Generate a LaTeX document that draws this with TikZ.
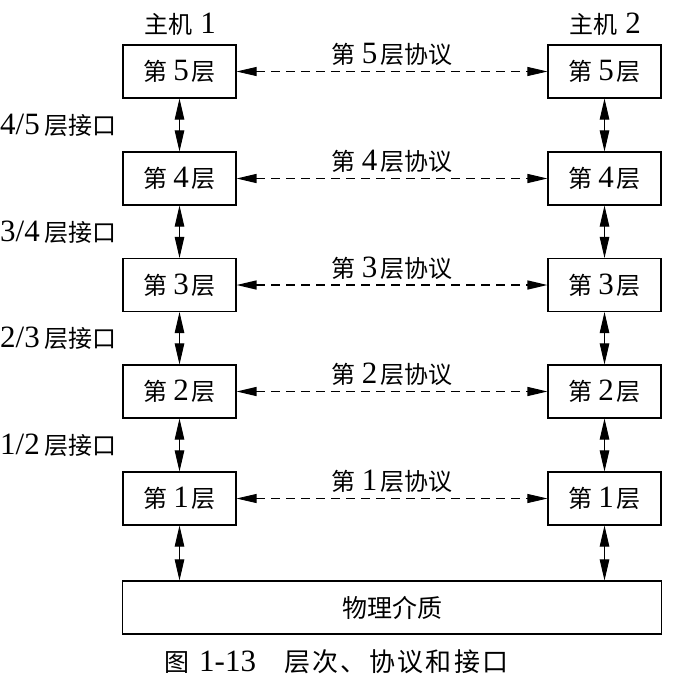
\documentclass[tikz,border=0pt]{standalone}
\usepackage{fontspec}
\setmainfont{Liberation Serif}
\newfontfamily\cjk{Noto Sans CJK SC}
\newfontfamily\cjkls{Noto Sans CJK SC}[LetterSpace=9]
\usetikzlibrary{arrows.meta}
\newcommand\zh[1]{{\cjk\fontsize{24}{26}\selectfont #1}}
\newcommand\zhc[1]{{\cjk\fontsize{25}{28}\selectfont #1}}
\newcommand\zhls[1]{{\cjkls\fontsize{26}{28}\selectfont #1}}
\newcommand\dg[1]{{\fontsize{31}{32}\selectfont #1}}
\begin{document}
\begin{tikzpicture}[x=1pt,y=-1pt,
  layerbox/.style={draw, line width=1.1pt, minimum width=113pt, minimum height=53pt, inner sep=0pt},
  vlink/.style={line width=0.9pt, {Triangle[length=21pt,width=9.5pt]}-{Triangle[length=21pt,width=9.5pt]}},
  hlink/.style={dash pattern=on 9pt off 6pt, {Triangle[length=20pt,width=9pt]}-{Triangle[length=20pt,width=9pt]}},
  lbl/.style={inner sep=0pt}]
\useasboundingbox (0,0) rectangle (700,691);

% host labels
\node[lbl] (H1) at (180,24) {\zh{主机}\hspace{8pt}\dg{1}};
\node[lbl] (H2) at (605,24) {\zh{主机}\hspace{8pt}\dg{2}};

% layers
\foreach \i/\y/\w in {5/71.5/0.8pt, 4/178.5/1.3pt, 3/285/1.3pt, 2/391.5/1.3pt, 1/498.5/0.8pt}{
  \node[layerbox] (L\i) at (179.5,\y) {\zh{第}\hspace{6pt}\dg{\i}\hspace{3pt}\zh{层}};
  \node[layerbox] (R\i) at (604.5,\y) {\zh{第}\hspace{6pt}\dg{\i}\hspace{3pt}\zh{层}};
  \draw[hlink, line width=\w] (L\i) -- (R\i);
  \node[lbl] (P\i) at (392,\y-17) {\zh{第}\hspace{6pt}\dg{\i}\hspace{3pt}\zh{层协议}};
}

% physical medium
\node[layerbox, minimum width=539pt] (M) at (392,607.5) {\zhc{物理介质}};

% interface labels
\foreach \a/\b/\y in {4/5/125, 3/4/232, 2/3/338, 1/2/445}{
  \node[lbl, anchor=east] (I\a) at (117,\y) {\dg{\a/\b}\hspace{5pt}\zh{层接口}};
}

% vertical arrows
\foreach \u/\d in {5/4, 4/3, 3/2, 2/1}{
  \draw[vlink] (L\u) -- (L\d);
  \draw[vlink] (R\u) -- (R\d);
}
\draw[vlink] (L1.south) -- (L1.south |- M.north);
\draw[vlink] (R1.south) -- (R1.south |- M.north);

% caption
\node[lbl, anchor=west] (C) at (164,662) {\zhc{图}\hspace{10pt}\dg{1-13}\hspace{28pt}\zhls{层次、协议和接口}};
\end{tikzpicture}
\end{document}
